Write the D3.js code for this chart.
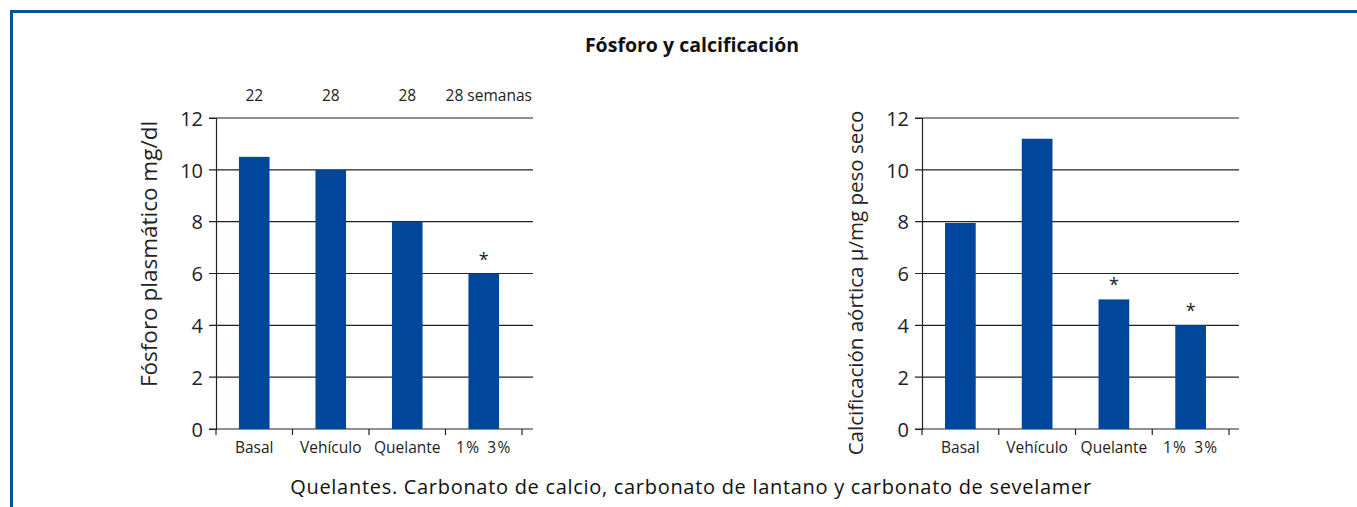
<!DOCTYPE html>
<html><head><meta charset="utf-8">
<script src="https://cdn.jsdelivr.net/npm/d3@7"></script>
<style>
body{margin:0;background:#fff;}
svg{display:block;font-family:"Open Sans",sans-serif;}
</style></head>
<body>
<svg id="c" width="1357" height="507"></svg>
<script>
const categories = ["Basal","Vehículo","Quelante","1% 3%"];
const weeks = ["22","28","28","28 semanas"];
const fosforo = [10.5, 10, 8, 6];
const fosforoSig = [false,false,false,true];
const calcificacion = [7.95, 11.2, 5, 4];
const calcSig = [false,false,true,true];
const yTicks = [0,2,4,6,8,10,12];

const svg = d3.select("#c");
const blue = "#00479b";
const frame = "#0a4ea0";

// frame
svg.append("rect").attr("x",10).attr("y",10).attr("width",1347).attr("height",3).attr("fill",frame);
svg.append("rect").attr("x",10).attr("y",10).attr("width",3).attr("height",497).attr("fill",frame);

svg.append("text").attr("x",692).attr("y",52).attr("text-anchor","middle")
  .attr("font-size",19.5).attr("font-weight","bold").attr("fill","#111").text("Fósforo y calcificación");

svg.append("text").attr("x",691).attr("y",494).attr("text-anchor","middle")
  .attr("font-size",20).attr("letter-spacing",0.7).attr("fill","#111").text("Quelantes. Carbonato de calcio, carbonato de lantano y carbonato de sevelamer");

function panel(x0, xEnd, gridEnd, values, sig, title, titleX, titleY, titleSize, topLabels){
  const y = d3.scaleLinear().domain([0,12]).range([429,118]);
  const x = d3.scaleBand().domain(categories).range([x0, xEnd]).paddingInner(0.6).paddingOuter(0.3);
  const g = svg.append("g");
  // gridlines
  g.selectAll("line.grid").data(yTicks).join("line")
    .attr("x1",x0-7).attr("x2",gridEnd).attr("y1",d=>y(d)).attr("y2",d=>y(d))
    .attr("stroke","#222").attr("stroke-width",1.2);
  // bars
  g.selectAll("rect.bar").data(values).join("rect")
    .attr("x",(d,i)=>x(categories[i])).attr("width",x.bandwidth())
    .attr("y",d=>y(d)).attr("height",d=>y(0)-y(d)).attr("fill",blue);
  // y axis
  const ya = g.append("g").attr("transform",`translate(${x0},0)`)
    .call(d3.axisLeft(y).tickValues(yTicks).tickSize(7).tickPadding(5));
  ya.select(".domain").attr("stroke","#222").attr("stroke-width",1.2);
  ya.selectAll(".tick line").remove();
  ya.selectAll("text").attr("font-size",20).attr("fill","#222").attr("font-family","Open Sans, sans-serif").attr("dy","0.36em").attr("x",-13);
  // x axis
  const xa = g.append("g").attr("transform",`translate(0,${y(0)})`)
    .call(d3.axisBottom(x).tickSize(0).tickPadding(13));
  xa.select(".domain").remove();
  xa.selectAll("text").attr("font-size",15.5).attr("fill","#222").attr("font-family","Open Sans, sans-serif")
    .attr("word-spacing",(d)=> d==="1% 3%" ? 2 : 0).attr("letter-spacing",d=> d==="1% 3%" ? 1.2 : 0);
  // x ticks at band boundaries
  const bounds = categories.map((c,i)=>x0 + i*(xEnd-x0)/4).concat([xEnd]);
  g.selectAll("line.xt").data(bounds).join("line")
    .attr("x1",d=>d).attr("x2",d=>d).attr("y1",y(0)).attr("y2",y(0)+6)
    .attr("stroke","#222").attr("stroke-width",1.2);
  // asterisks
  g.selectAll("text.ast").data(values.map((v,i)=>({v,i})).filter(d=>sig[d.i])).join("text")
    .attr("x",d=>x(categories[d.i])+x.bandwidth()/2).attr("y",d=>y(d.v)-8)
    .attr("text-anchor","middle").attr("font-size",18).attr("fill","#222").text("*");
  // top labels
  if(topLabels){
    g.selectAll("text.wk").data(topLabels).join("text")
      .attr("x",(d,i)=> i===3 ? x(categories[i])+x.bandwidth()/2+5 : x(categories[i])+x.bandwidth()/2)
      .attr("y",101).attr("text-anchor","middle").attr("font-size",15.5).attr("fill","#222").text(d=>d);
  }
  // y title
  svg.append("text").attr("transform",`translate(${titleX},${titleY}) rotate(-90)`)
    .attr("text-anchor","middle").attr("font-size",titleSize).attr("fill","#222").text(title);
}

panel(216, 522, 533, fosforo, fosforoSig, "Fósforo plasmático mg/dl", 157, 254, 22.5, weeks);
panel(922, 1229, 1239, calcificacion, calcSig, "Calcificación aórtica µ/mg peso seco", 863, 283, 20.5, null);
</script>
</body></html>
